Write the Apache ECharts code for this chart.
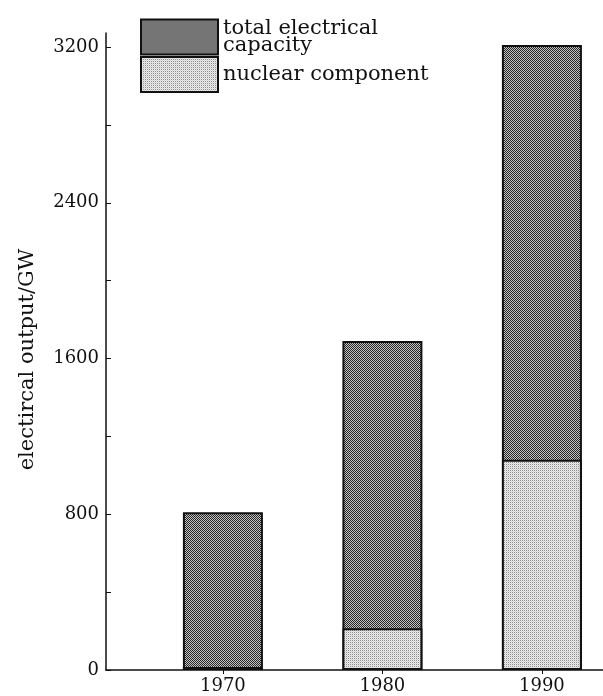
<!DOCTYPE html>
<html>
<head>
<meta charset="utf-8">
<script src="https://cdn.jsdelivr.net/npm/echarts@6/dist/echarts.min.js"></script>
<style>
html,body{margin:0;padding:0;background:#fff;}
#chart{width:603px;height:696px;}
</style>
</head>
<body>
<div id="chart"></div>
<script>
// ---- data ----
const years = [1970, 1980, 1990];
const totalCapacity = [810, 1690, 3210];      // GW
const nuclearComponent = [16, 215, 1080];     // GW
const yTickValues = [0, 400, 800, 1200, 1600, 2000, 2400, 2800, 3200];
const yLabelValues = [0, 800, 1600, 2400, 3200];
const xLabelValues = [1970, 1980, 1990];
const seriesNames = ['total electrical\ncapacity', 'nuclear component'];
const yAxisName = 'electircal output/GW';

// ---- halftone-like fill patterns ----
function makePattern(size, painter) {
  const c = document.createElement('canvas');
  c.width = size; c.height = size;
  const ctx = c.getContext('2d');
  painter(ctx);
  return { image: c, repeat: 'repeat' };
}
const darkFill = makePattern(2, ctx => {
  ctx.fillStyle = '#c4c4c4'; ctx.fillRect(0, 0, 2, 2);
  ctx.fillStyle = '#262626'; ctx.fillRect(0, 0, 1, 1); ctx.fillRect(1, 1, 1, 1);
});
const lightFill = makePattern(2, ctx => {
  ctx.fillStyle = '#ececec'; ctx.fillRect(0, 0, 2, 2);
  ctx.fillStyle = '#8c8c8c'; ctx.fillRect(0, 0, 1, 1);
  ctx.fillStyle = '#d4d4d4'; ctx.fillRect(1, 1, 1, 1);
});

const FONT = 'DejaVu Serif';
const chart = echarts.init(document.getElementById('chart'), null, { renderer: 'canvas' });

chart.setOption({
  animation: false,
  backgroundColor: '#fff',
  grid: { left: 106, right: 0, top: 33, bottom: 26, containLabel: false },
  legend: {
    left: 140, top: 18, orient: 'vertical', itemGap: 0, padding: 0,
    itemWidth: 77, itemHeight: 35, icon: 'rect',
    textStyle: { fontFamily: FONT, fontSize: 21, color: '#111', lineHeight: 17 },
    data: [
      { name: seriesNames[0], itemStyle: { color: darkFill, borderColor: '#111', borderWidth: 2 } },
      { name: seriesNames[1], itemStyle: { color: lightFill, borderColor: '#111', borderWidth: 2 } }
    ]
  },
  xAxis: {
    type: 'value', min: 1962.67, max: 1993.83,
    splitLine: { show: false },
    axisLine: { show: true, lineStyle: { color: '#111', width: 1.5 } },
    axisTick: { show: true, inside: false, length: 4, customValues: xLabelValues, lineStyle: { color: '#111' } },
    axisLabel: { customValues: xLabelValues, margin: 7, fontFamily: FONT, fontSize: 18, color: '#111',
      formatter: v => String(v) }
  },
  yAxis: {
    type: 'value', min: 0, max: 3272,
    name: yAxisName, nameLocation: 'middle', nameRotate: 90, nameGap: 68,
    nameTextStyle: { fontFamily: FONT, fontSize: 21, color: '#111', padding: [0, 16, 0, 0] },
    splitLine: { show: false },
    axisLine: { show: true, lineStyle: { color: '#111', width: 1.5 } },
    axisTick: { show: true, inside: true, length: 5, customValues: yTickValues, lineStyle: { color: '#111' } },
    axisLabel: { customValues: yLabelValues, margin: 7, fontFamily: FONT, fontSize: 18, color: '#111',
      formatter: v => String(v) }
  },
  series: [
    {
      name: seriesNames[0], type: 'bar', barWidth: 80, barGap: '-100%',
      itemStyle: { color: darkFill, borderColor: '#111', borderWidth: 2 },
      data: years.map((y, i) => [y, totalCapacity[i]])
    },
    {
      name: seriesNames[1], type: 'bar', barWidth: 80, barGap: '-100%',
      itemStyle: { color: lightFill, borderColor: '#111', borderWidth: 2 },
      data: years.map((y, i) => [y, nuclearComponent[i]])
    }
  ]
});
</script>
</body>
</html>
